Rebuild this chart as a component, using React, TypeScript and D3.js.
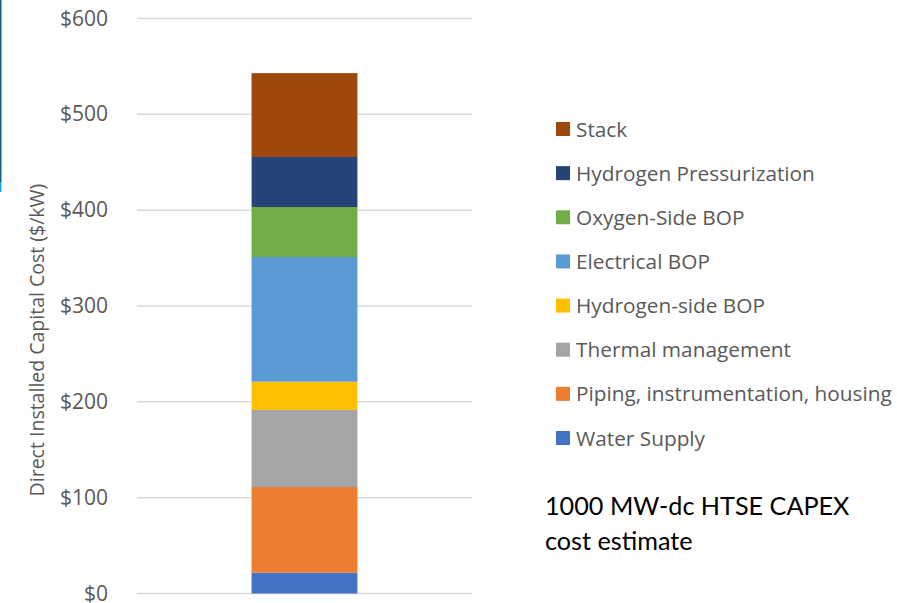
import React from "react";
import * as d3 from "d3";

// Cost components, bottom of the stack first
const components = [
  "Water Supply",
  "Piping, instrumentation, housing",
  "Thermal management",
  "Hydrogen-side BOP",
  "Electrical BOP",
  "Oxygen-Side BOP",
  "Hydrogen Pressurization",
  "Stack",
];
const costs = [21.7, 89.4, 80.4, 29.5, 130.1, 52.2, 52.2, 87.5];
const colors = [
  "#4472C4",
  "#ED7D31",
  "#A5A5A5",
  "#FFC000",
  "#5B9BD5",
  "#70AD47",
  "#264478",
  "#9E480E",
];
const categories = ["1000 MW-dc"];
const yTicks = [0, 100, 200, 300, 400, 500, 600];
const yTitle = "Direct Installed Capital Cost ($/kW)";
const noteLines = ["1000 MW-dc HTSE CAPEX", "cost estimate"];

const W = 897;
const H = 603;
const UI_FONT = "'Open Sans', 'Noto Sans', sans-serif";
const NOTE_FONT = "Lato, 'Open Sans', sans-serif";

export default function App() {
  const plot = { left: 137, right: 472, top: 18.5, bottom: 593.5 };
  const y = d3.scaleLinear().domain([0, 600]).range([plot.bottom, plot.top]);
  const x = d3
    .scaleBand<string>()
    .domain(categories)
    .range([plot.left, plot.right])
    .paddingInner(0.684)
    .paddingOuter(0.342);

  const row: Record<string, number> = {};
  components.forEach((c, i) => (row[c] = costs[i]));
  const series = d3.stack<Record<string, number>>().keys(components)([row]);

  const legendOrder = components.map((c, i) => ({ name: c, color: colors[i] })).reverse();
  const legendY = d3
    .scalePoint<string>()
    .domain(legendOrder.map((d) => d.name))
    .range([129, 438]);

  return (
    <svg
      width={W}
      height={H}
      style={{ position: "absolute", left: 0, top: 0, background: "#fff" }}
      fontFamily={UI_FONT}
    >
      {/* slide edge accent */}
      <rect x={0} y={0} width={1.5} height={182} fill="#0F6482" />
      <rect x={0} y={182} width={1.5} height={10} fill="#1FA8DF" />

      {/* gridlines */}
      {yTicks.map((t) => (
        <line
          key={t}
          x1={plot.left}
          x2={plot.right}
          y1={y(t)}
          y2={y(t)}
          stroke="#D9D9D9"
          strokeWidth={1.5}
        />
      ))}

      {/* tick labels */}
      {yTicks.map((t) => (
        <text
          key={t}
          x={108}
          y={y(t)}
          dy="0.34em"
          textAnchor="end"
          fontSize={21}
          fill="#595959"
        >
          {d3.format("$,")(t)}
        </text>
      ))}

      {/* axis title */}
      <text
        transform={`translate(44, ${(plot.top + plot.bottom) / 2 + 34}) rotate(-90)`}
        textAnchor="middle"
        fontSize={19.5}
        fill="#595959"
      >
        {yTitle}
      </text>

      {/* stacked segments */}
      {series.map((s, i) =>
        s.map((d, j) => (
          <rect
            key={`${i}-${j}`}
            x={x(categories[j])}
            width={x.bandwidth()}
            y={y(d[1])}
            height={y(d[0]) - y(d[1])}
            fill={colors[i]}
          />
        ))
      )}

      {/* legend */}
      {legendOrder.map((d) => (
        <g key={d.name} transform={`translate(556, ${legendY(d.name)})`}>
          <rect x={0} y={-7} width={14} height={14} fill={d.color} />
          <text x={20} y={0} dy="0.36em" fontSize={20.8} fill="#595959">
            {d.name}
          </text>
        </g>
      ))}

      {/* note */}
      {noteLines.map((l, i) => (
        <text key={l} x={545} y={515 + i * 35} fontSize={25.2} fill="#000" fontFamily={NOTE_FONT}>
          {l}
        </text>
      ))}
    </svg>
  );
}
